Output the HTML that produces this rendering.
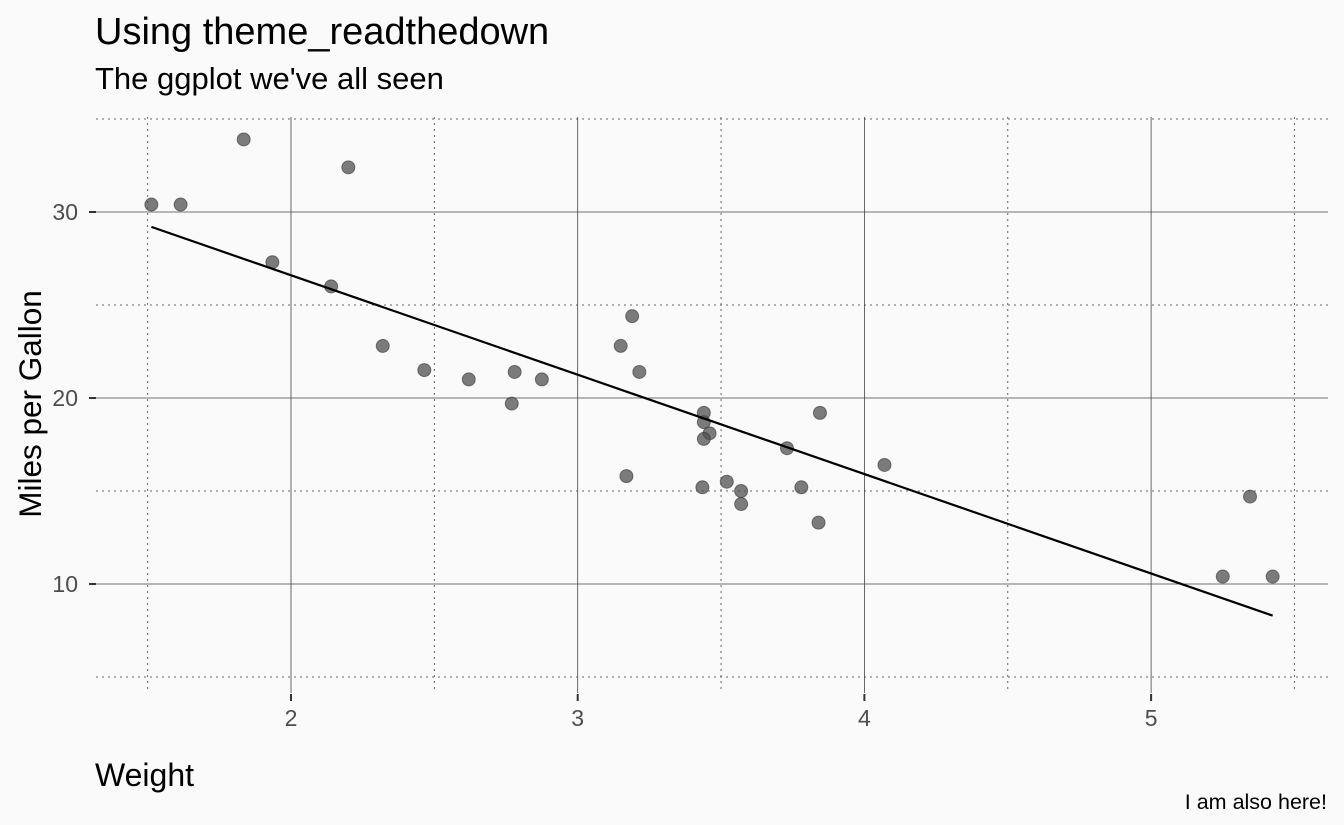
<!DOCTYPE html>
<html><head><meta charset="utf-8"><style>
body{margin:0;background:#fafafa;}
svg{display:block;font-family:"Liberation Sans",Arial,sans-serif;}
</style></head><body>
<svg id="chart" width="1344" height="825" viewBox="0 0 1344 825">
<rect width="1344" height="825" fill="#fafafa"/>
<text x="95" y="44" font-size="38" fill="#000">Using theme_readthedown</text>
<text x="95" y="89" font-size="31" fill="#000">The ggplot we've all seen</text>
<text transform="translate(41,404) rotate(-90)" text-anchor="middle" font-size="31.5" fill="#000">Miles per Gallon</text>
<text x="95" y="786" font-size="32" fill="#000">Weight</text>
<text x="1327" y="809" text-anchor="end" font-size="21.5" fill="#000">I am also here!</text>
<g id="grid"></g><g id="marks"></g>
</svg>
<script>
const wt=[2.620,2.875,2.320,3.215,3.440,3.460,3.570,3.190,3.150,3.440,3.440,4.070,3.730,3.780,5.250,5.424,5.345,2.200,1.615,1.835,2.465,3.520,3.435,3.840,3.845,1.935,2.140,1.513,3.170,2.770,3.570,2.780];
const mpg=[21.0,21.0,22.8,21.4,18.7,18.1,14.3,24.4,22.8,19.2,17.8,16.4,17.3,15.2,10.4,10.4,14.7,32.4,30.4,33.9,21.5,15.5,15.2,13.3,19.2,27.3,26.0,30.4,15.8,19.7,15.0,21.4];
const xTicks=[2,3,4,5];
const xMinor=[1.5,2.5,3.5,4.5,5.5];
const yTicks=[10,20,30];
const yMinor=[5,15,25,35];
const fitIntercept=37.285, fitSlope=-5.344;
const X=v=>291+(v-2)*286.7;
const Y=v=>398-(v-20)*18.6;
const NS='http://www.w3.org/2000/svg';
const grid=document.getElementById('grid'), marks=document.getElementById('marks');
function mk(p,tag,a){const e=document.createElementNS(NS,tag);for(const k in a)e.setAttribute(k,a[k]);p.appendChild(e);return e;}
yMinor.forEach(v=>{const e=mk(grid,'line',{x1:96,x2:1328,y1:Y(v),y2:Y(v),stroke:'#666','stroke-width':1,'stroke-dasharray':'2 4'});

});
xMinor.forEach(v=>{const e=mk(grid,'line',{x1:X(v),x2:X(v),y1:117,y2:693,stroke:'#666','stroke-width':1,'stroke-dasharray':'2 4'});

});
yTicks.forEach(v=>{const e=mk(grid,'line',{x1:96,x2:1328,y1:Y(v),y2:Y(v),stroke:'#444','stroke-width':0.8});


const t=mk(grid,'line',{x1:89,x2:96,y1:Y(v),y2:Y(v),stroke:'#333','stroke-width':2});


const l=mk(grid,'text',{x:78,y:Y(v)+8,'text-anchor':'end','font-size':23,fill:'#4d4d4d'});l.textContent=v;

});
xTicks.forEach(v=>{const e=mk(grid,'line',{x1:X(v),x2:X(v),y1:117,y2:693,stroke:'#444','stroke-width':0.8});


const t=mk(grid,'line',{x1:X(v),x2:X(v),y1:694,y2:701,stroke:'#333','stroke-width':2});


const l=mk(grid,'text',{x:X(v),y:726,'text-anchor':'middle','font-size':23,fill:'#4d4d4d'});l.textContent=v;

});
wt.forEach((w,i)=>{const c=mk(marks,'circle',{cx:X(w),cy:Y(mpg[i]),r:6.5,fill:'#505050','fill-opacity':0.75,stroke:'#333','stroke-opacity':0.6,'stroke-width':1});

});
const x0=Math.min(...wt),x1=Math.max(...wt);
const ln=mk(marks,'line',{x1:X(x0),y1:Y(fitIntercept+fitSlope*x0),x2:X(x1),y2:Y(fitIntercept+fitSlope*x1),stroke:'#000','stroke-width':2.2});


</script>
</body></html>
